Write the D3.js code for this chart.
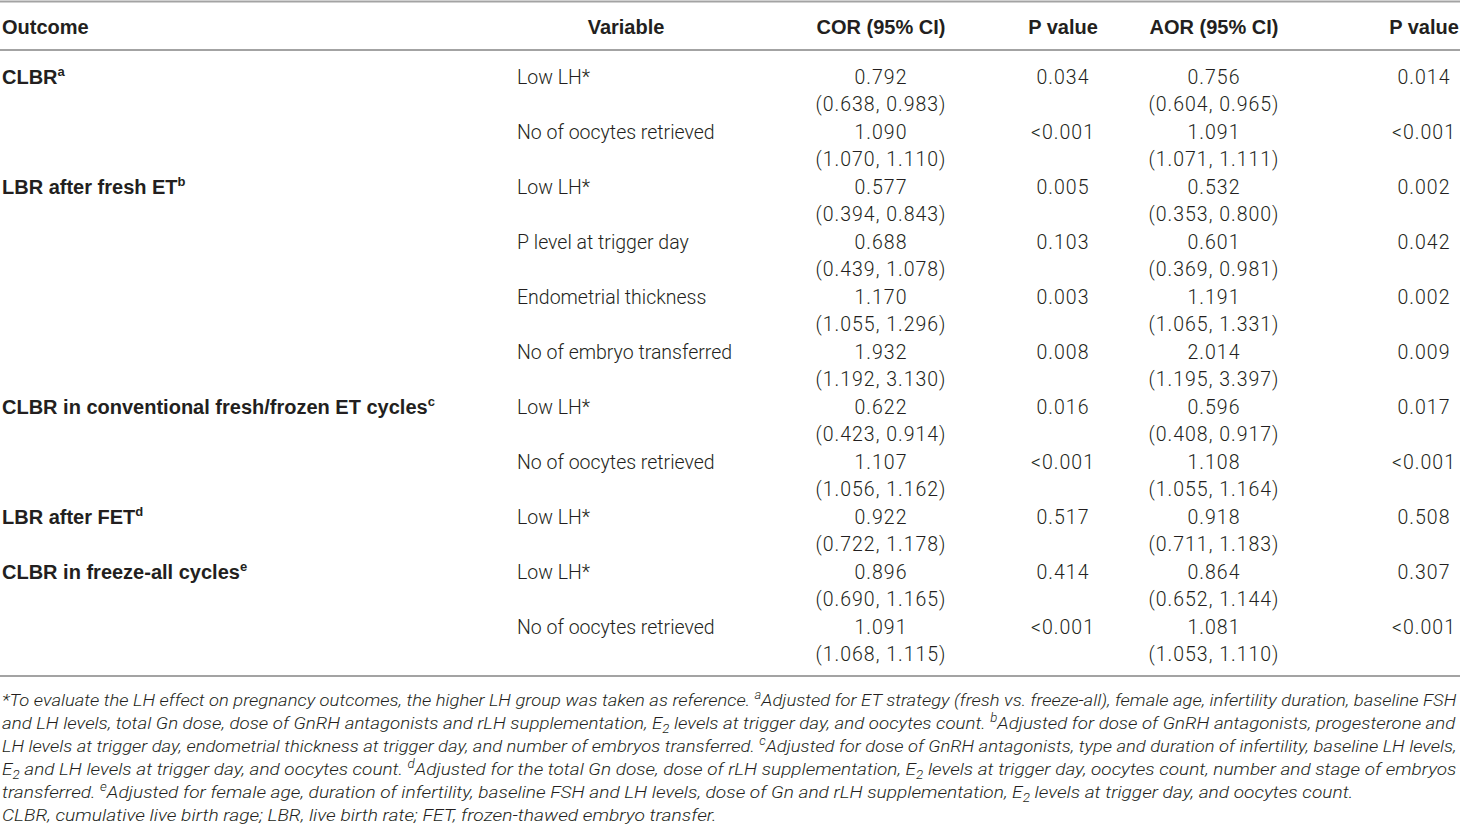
<!DOCTYPE html>
<html>
<head>
<meta charset="utf-8">
<script src="https://cdn.jsdelivr.net/npm/d3@7"></script>
<style>
    body { margin: 0; background: #fff; }
    svg text { fill: #231f20; font-family: Roboto, "Liberation Sans", sans-serif; }
    svg text.bold { font-family: "Liberation Sans", Arial, sans-serif; font-weight: 700; font-size: 20px; }
</style>
</head>
<body>
<script>
//table contents, one entry per table row
var headers = ["Outcome", "Variable", "COR (95% CI)", "P value", "AOR (95% CI)", "P value"];
var outcomes = ["CLBR", "", "LBR after fresh ET", "", "", "", "CLBR in conventional fresh/frozen ET cycles", "", "LBR after FET", "CLBR in freeze-all cycles", ""];
var outcomeNotes = ["a", "", "b", "", "", "", "c", "", "d", "e", ""];
var variables = ["Low LH*", "No of oocytes retrieved", "Low LH*", "P level at trigger day", "Endometrial thickness", "No of embryo transferred", "Low LH*", "No of oocytes retrieved", "Low LH*", "Low LH*", "No of oocytes retrieved"];
var corValues = [0.792, 1.090, 0.577, 0.688, 1.170, 1.932, 0.622, 1.107, 0.922, 0.896, 1.091];
var corLower = [0.638, 1.070, 0.394, 0.439, 1.055, 1.192, 0.423, 1.056, 0.722, 0.690, 1.068];
var corUpper = [0.983, 1.110, 0.843, 1.078, 1.296, 3.130, 0.914, 1.162, 1.178, 1.165, 1.115];
var corP = ["0.034", "<0.001", "0.005", "0.103", "0.003", "0.008", "0.016", "<0.001", "0.517", "0.414", "<0.001"];
var aorValues = [0.756, 1.091, 0.532, 0.601, 1.191, 2.014, 0.596, 1.108, 0.918, 0.864, 1.081];
var aorLower = [0.604, 1.071, 0.353, 0.369, 1.065, 1.195, 0.408, 1.055, 0.711, 0.652, 1.053];
var aorUpper = [0.965, 1.111, 0.800, 0.981, 1.331, 3.397, 0.917, 1.164, 1.183, 1.144, 1.110];
var aorP = ["0.014", "<0.001", "0.002", "0.042", "0.002", "0.009", "0.017", "<0.001", "0.508", "0.307", "<0.001"];

//footnote lines as [text, style] pieces
var footnoteLines = [
    [["*To evaluate the LH effect on pregnancy outcomes, the higher LH group was taken as reference. "], ["a", "sup"], ["Adjusted for ET strategy (fresh vs. freeze-all), female age, infertility duration, baseline FSH"]],
    [["and LH levels, total Gn dose, dose of GnRH antagonists and rLH supplementation, E"], ["2", "sub"], [" levels at trigger day, and oocytes count. "], ["b", "sup"], ["Adjusted for dose of GnRH antagonists, progesterone and"]],
    [["LH levels at trigger day, endometrial thickness at trigger day, and number of embryos transferred. "], ["c", "sup"], ["Adjusted for dose of GnRH antagonists, type and duration of infertility, baseline LH levels,"]],
    [["E"], ["2", "sub"], [" and LH levels at trigger day, and oocytes count. "], ["d", "sup"], ["Adjusted for the total Gn dose, dose of rLH supplementation, E"], ["2", "sub"], [" levels at trigger day, oocytes count, number and stage of embryos"]],
    [["transferred. "], ["e", "sup"], ["Adjusted for female age, duration of infertility, baseline FSH and LH levels, dose of Gn and rLH supplementation, E"], ["2", "sub"], [" levels at trigger day, and oocytes count."]],
    [["CLBR, cumulative live birth rage; LBR, live birth rate; FET, frozen-thawed embryo transfer."]]
];

window.onload = drawTable;

function drawTable() {
    var width = 1460,
        height = 838;

    var svg = d3.select("body")
        .append("svg")
        .attr("width", width)
        .attr("height", height);

    var fmt = d3.format(".3f");
    var rows = d3.range(variables.length);

    //row bands and column positions
    var y = d3.scaleBand()
        .domain(rows)
        .range([50, 655]);

    var colX = [2, 626, 881, 1063, 1214, 1424];
    var colAnchor = ["start", "middle", "middle", "middle", "middle", "middle"];

    //rules
    var rules = [1.5, 50, 676];
    svg.selectAll(".rule")
        .data(rules)
        .enter()
        .append("line")
        .attr("class", "rule")
        .attr("x1", 0)
        .attr("x2", width)
        .attr("y1", function(d) { return d; })
        .attr("y2", function(d) { return d; })
        .attr("stroke", "#a3a3a3")
        .attr("stroke-width", 2);

    //header
    svg.selectAll(".head")
        .data(headers)
        .enter()
        .append("text")
        .attr("class", "head bold")
        .attr("x", function(d, i) { return colX[i]; })
        .attr("y", 34)
        .attr("text-anchor", function(d, i) { return colAnchor[i]; })
        .text(function(d) { return d; });

    //outcome labels with superscript notes
    var out = svg.selectAll(".outcome")
        .data(rows.filter(function(i) { return outcomes[i] !== ""; }))
        .enter()
        .append("text")
        .attr("class", "outcome bold")
        .attr("x", colX[0])
        .attr("y", function(i) { return y(i) + 34; });
    out.append("tspan").text(function(i) { return outcomes[i]; });
    out.append("tspan")
        .attr("dy", -8)
        .style("font-size", "13px")
        .text(function(i) { return outcomeNotes[i]; });

    //variable names
    svg.selectAll(".variable")
        .data(rows)
        .enter()
        .append("text")
        .attr("class", "variable")
        .attr("x", 517)
        .attr("y", function(i) { return y(i) + 34; })
        .style("font-size", "19.5px")
        .style("font-weight", 300)
        .text(function(i) { return variables[i]; });

    //odds ratio cells: value line and CI line
    var cells = [
        {col: 2, value: corValues, lower: corLower, upper: corUpper},
        {col: 4, value: aorValues, lower: aorLower, upper: aorUpper}
    ];
    cells.forEach(function(c) {
        svg.selectAll(".v" + c.col)
            .data(rows)
            .enter()
            .append("text")
            .attr("x", colX[c.col])
            .attr("y", function(i) { return y(i) + 34; })
            .attr("text-anchor", "middle")
            .style("font-size", "19.5px")
            .style("font-weight", 300)
            .style("letter-spacing", "1px")
            .text(function(i) { return fmt(c.value[i]); });
        svg.selectAll(".ci" + c.col)
            .data(rows)
            .enter()
            .append("text")
            .attr("x", colX[c.col])
            .attr("y", function(i) { return y(i) + 61; })
            .attr("text-anchor", "middle")
            .style("font-size", "19.5px")
            .style("font-weight", 300)
            .style("letter-spacing", "1px")
            .text(function(i) { return "(" + fmt(c.lower[i]) + ", " + fmt(c.upper[i]) + ")"; });
    });

    //p values
    [[3, corP], [5, aorP]].forEach(function(p) {
        svg.selectAll(".p" + p[0])
            .data(rows)
            .enter()
            .append("text")
            .attr("x", colX[p[0]])
            .attr("y", function(i) { return y(i) + 34; })
            .attr("text-anchor", "middle")
            .style("font-size", "19.5px")
            .style("font-weight", 300)
            .style("letter-spacing", "1px")
            .text(function(i) { return p[1][i]; });
    });

    //footnotes, each line stretched to its printed width
    var noteRight = [1457, 1457, 1457, 1457, 1354, 717];
    footnoteLines.forEach(function(line, k) {
        var t = svg.append("text")
            .attr("transform", "translate(2," + (706 + k * 23) + ")")
            .style("font-size", "17px")
            .style("font-weight", 300)
            .style("font-style", "italic");
        var shift = 0;
        line.forEach(function(seg) {
            var off = seg[1] === "sup" ? -7 : seg[1] === "sub" ? 4 : 0;
            t.append("tspan")
                .attr("dy", off - shift)
                .style("font-size", seg[1] ? "12px" : null)
                .text(seg[0]);
            shift = off;
        });
        var w = t.node().getComputedTextLength();
        t.attr("transform", "translate(2," + (706 + k * 23) + ") scale(" + ((noteRight[k] - 2) / w) + ",1)");
    });
}
</script>
</body>
</html>
